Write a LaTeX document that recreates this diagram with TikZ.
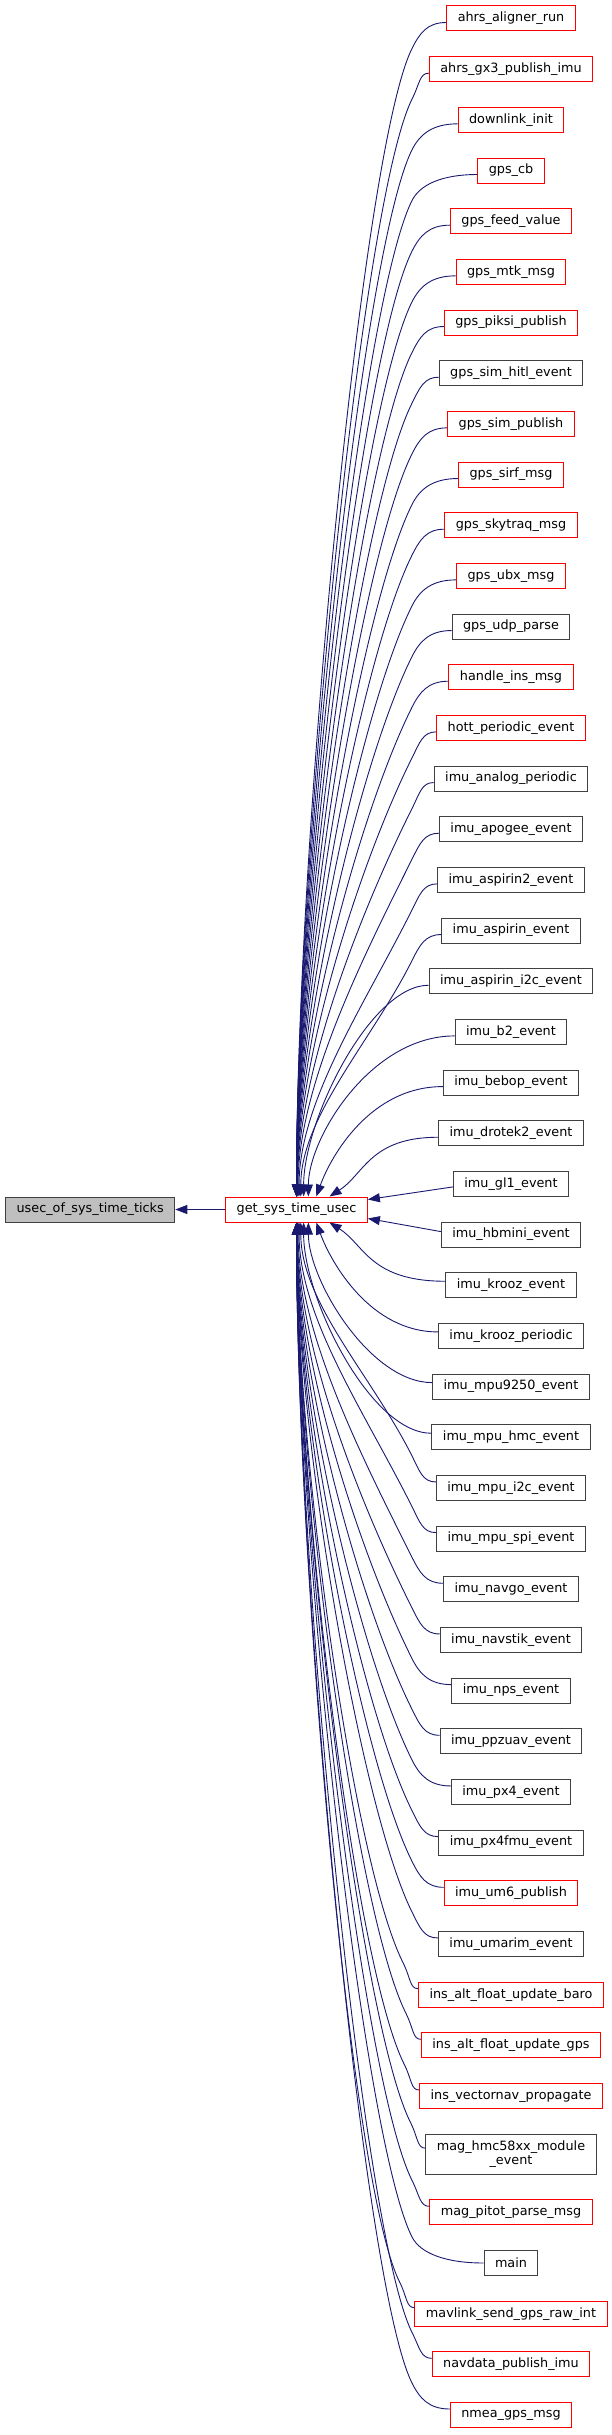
\documentclass[tikz,border=0pt]{standalone}
\usepackage{fontspec}
\setmainfont{DejaVu Sans}
\usetikzlibrary{arrows.meta}
\definecolor{edgeblue}{HTML}{191970}
\definecolor{boxred}{HTML}{FF0000}
\definecolor{boxgrey}{HTML}{404040}
\definecolor{usecfill}{HTML}{BFBFBF}
\begin{document}
\begin{tikzpicture}[x=1pt,y=-1pt,
  box/.style={draw, line width=1pt, fill=white, font=\fontsize{12.8}{13.5}\selectfont,
    inner xsep=11pt, inner ysep=0pt, minimum height=25pt, align=center, anchor=center},
  edge/.style={draw=edgeblue, line width=0.9pt, -{Triangle[length=12pt,width=9pt]}}]
\useasboundingbox (0,0) rectangle (612,2435);
\node[box, draw=boxgrey, fill=usecfill] (usec) at (90.2,1209.5) {usec\_of\_sys\_time\_ticks};
\node[box, draw=boxred] (get) at (296.5,1209.5) {get\_sys\_time\_usec};
\draw[edge] (get.west) -- (usec.east);
\foreach \i/\t/\c/\h in {
 1/ahrs\_aligner\_run/boxred/25,
 2/ahrs\_gx3\_publish\_imu/boxred/25,
 3/downlink\_init/boxred/25,
 4/gps\_cb/boxred/25,
 5/gps\_feed\_value/boxred/25,
 6/gps\_mtk\_msg/boxred/25,
 7/gps\_piksi\_publish/boxred/25,
 8/gps\_sim\_hitl\_event/boxgrey/25,
 9/gps\_sim\_publish/boxred/25,
 10/gps\_sirf\_msg/boxred/25,
 11/gps\_skytraq\_msg/boxred/25,
 12/gps\_ubx\_msg/boxred/25,
 13/gps\_udp\_parse/boxgrey/25,
 14/handle\_ins\_msg/boxred/25,
 15/hott\_periodic\_event/boxred/25,
 16/imu\_analog\_periodic/boxgrey/25,
 17/imu\_apogee\_event/boxgrey/25,
 18/imu\_aspirin2\_event/boxgrey/25,
 19/imu\_aspirin\_event/boxgrey/25,
 20/imu\_aspirin\_i2c\_event/boxgrey/25,
 21/imu\_b2\_event/boxgrey/25,
 22/imu\_bebop\_event/boxgrey/25,
 23/imu\_drotek2\_event/boxgrey/25,
 24/imu\_gl1\_event/boxgrey/25,
 25/imu\_hbmini\_event/boxgrey/25,
 26/imu\_krooz\_event/boxgrey/25,
 27/imu\_krooz\_periodic/boxgrey/25,
 28/imu\_mpu9250\_event/boxgrey/25,
 29/imu\_mpu\_hmc\_event/boxgrey/25,
 30/imu\_mpu\_i2c\_event/boxgrey/25,
 31/imu\_mpu\_spi\_event/boxgrey/25,
 32/imu\_navgo\_event/boxgrey/25,
 33/imu\_navstik\_event/boxgrey/25,
 34/imu\_nps\_event/boxgrey/25,
 35/imu\_ppzuav\_event/boxgrey/25,
 36/imu\_px4\_event/boxgrey/25,
 37/imu\_px4fmu\_event/boxgrey/25,
 38/imu\_um6\_publish/boxred/25,
 39/imu\_umarim\_event/boxgrey/25,
 40/ins\_alt\_float\_update\_baro/boxred/25,
 41/ins\_alt\_float\_update\_gps/boxred/25,
 42/ins\_vectornav\_propagate/boxred/25,
 43/mag\_hmc58xx\_module\\\_event/boxgrey/40,
 44/mag\_pitot\_parse\_msg/boxred/25,
 45/main/boxgrey/25,
 46/mavlink\_send\_gps\_raw\_int/boxred/25,
 47/navdata\_publish\_imu/boxred/25,
 48/nmea\_gps\_msg/boxred/25} {
  \pgfmathsetmacro\yy{18.5+(\i-1)*50.67+(\i>43)*15+(\i==43)*7.5}
  \node[box, draw=\c, minimum height=\h pt] (n\i) at (511,\yy) {\t};
}
% far callers above get_sys_time_usec: quick bend, then long sweep
\foreach \i in {1,...,19} {
  \pgfmathsetmacro\yy{18.5+(\i-1)*50.67}
  \pgfmathsetmacro\dy{1196.7-\yy}
  \path (n\i.west); \pgfgetlastxy{\wx}{\wy}
  \pgfmathsetmacro\a{max(15,\wx-412)}
  \pgfmathsetmacro\k{0.6*26}
  \pgfmathsetmacro\L{min(100,0.3*\dy)}
  \pgfmathsetmacro\xo{33*0.6^(23-\i)}
  \pgfmathsetmacro\v{0.3*\dy}
  \draw[edge] ([yshift=-4pt]n\i.west) .. controls +(-0.55*\a,0) and +(0.5*\k,-\k) .. ++(-\a,26)
     .. controls +(-0.5*\L,\L) and +(0,-\v) .. ([xshift=\xo pt]get.north);
}
% near callers above
\foreach \i in {20,...,23} {
  \pgfmathsetmacro\yy{18.5+(\i-1)*50.67}
  \pgfmathsetmacro\ys{\yy+4}
  \pgfmathsetmacro\dy{1196.7-\yy}
  \pgfmathsetmacro\xo{33*0.6^(23-\i)}
  \pgfmathsetmacro\v{0.35*\dy}
  \pgfmathsetmacro\u{max(0,150-\dy)*0.4}
  \draw[edge] ([yshift=-4pt]n\i.west) .. controls (370,\ys) and +(\u,-\v) .. ([xshift=\xo pt]get.north);
}
\draw[edge] ([yshift=-3pt]n24.west) -- ([yshift=10pt]get.east);
\draw[edge] ([yshift=3pt]n25.west) -- ([yshift=-9pt]get.east);
% near callers below
\foreach \i in {26,...,29} {
  \pgfmathsetmacro\yy{18.5+(\i-1)*50.67}
  \pgfmathsetmacro\ys{\yy-4}
  \pgfmathsetmacro\dy{\yy-1222.3}
  \pgfmathsetmacro\xo{33*0.6^(\i-26)}
  \pgfmathsetmacro\v{0.35*\dy}
  \pgfmathsetmacro\u{max(0,150-\dy)*0.4}
  \draw[edge] ([yshift=4pt]n\i.west) .. controls (370,\ys) and +(\u,\v) .. ([xshift=\xo pt]get.south);
}
% far callers below
\foreach \i in {30,...,48} {
  \pgfmathsetmacro\yy{18.5+(\i-1)*50.67+(\i>43)*15+(\i==43)*7.5}
  \pgfmathsetmacro\sh{(\i==45)?0:6}
  \pgfmathsetmacro\dy{\yy-1222.3}
  \path (n\i.west); \pgfgetlastxy{\wx}{\wy}
  \pgfmathsetmacro\a{max(15,\wx-412)}
  \pgfmathsetmacro\k{0.6*26}
  \pgfmathsetmacro\L{min(100,0.3*\dy)}
  \pgfmathsetmacro\xo{33*0.6^(\i-26)}
  \pgfmathsetmacro\v{0.3*\dy}
  \draw[edge] ([yshift=\sh pt]n\i.west) .. controls +(-0.55*\a,0) and +(0.5*\k,\k) .. ++(-\a,-26)
     .. controls +(-0.5*\L,-\L) and +(0,\v) .. ([xshift=\xo pt]get.south);
}
\end{tikzpicture}
\end{document}
